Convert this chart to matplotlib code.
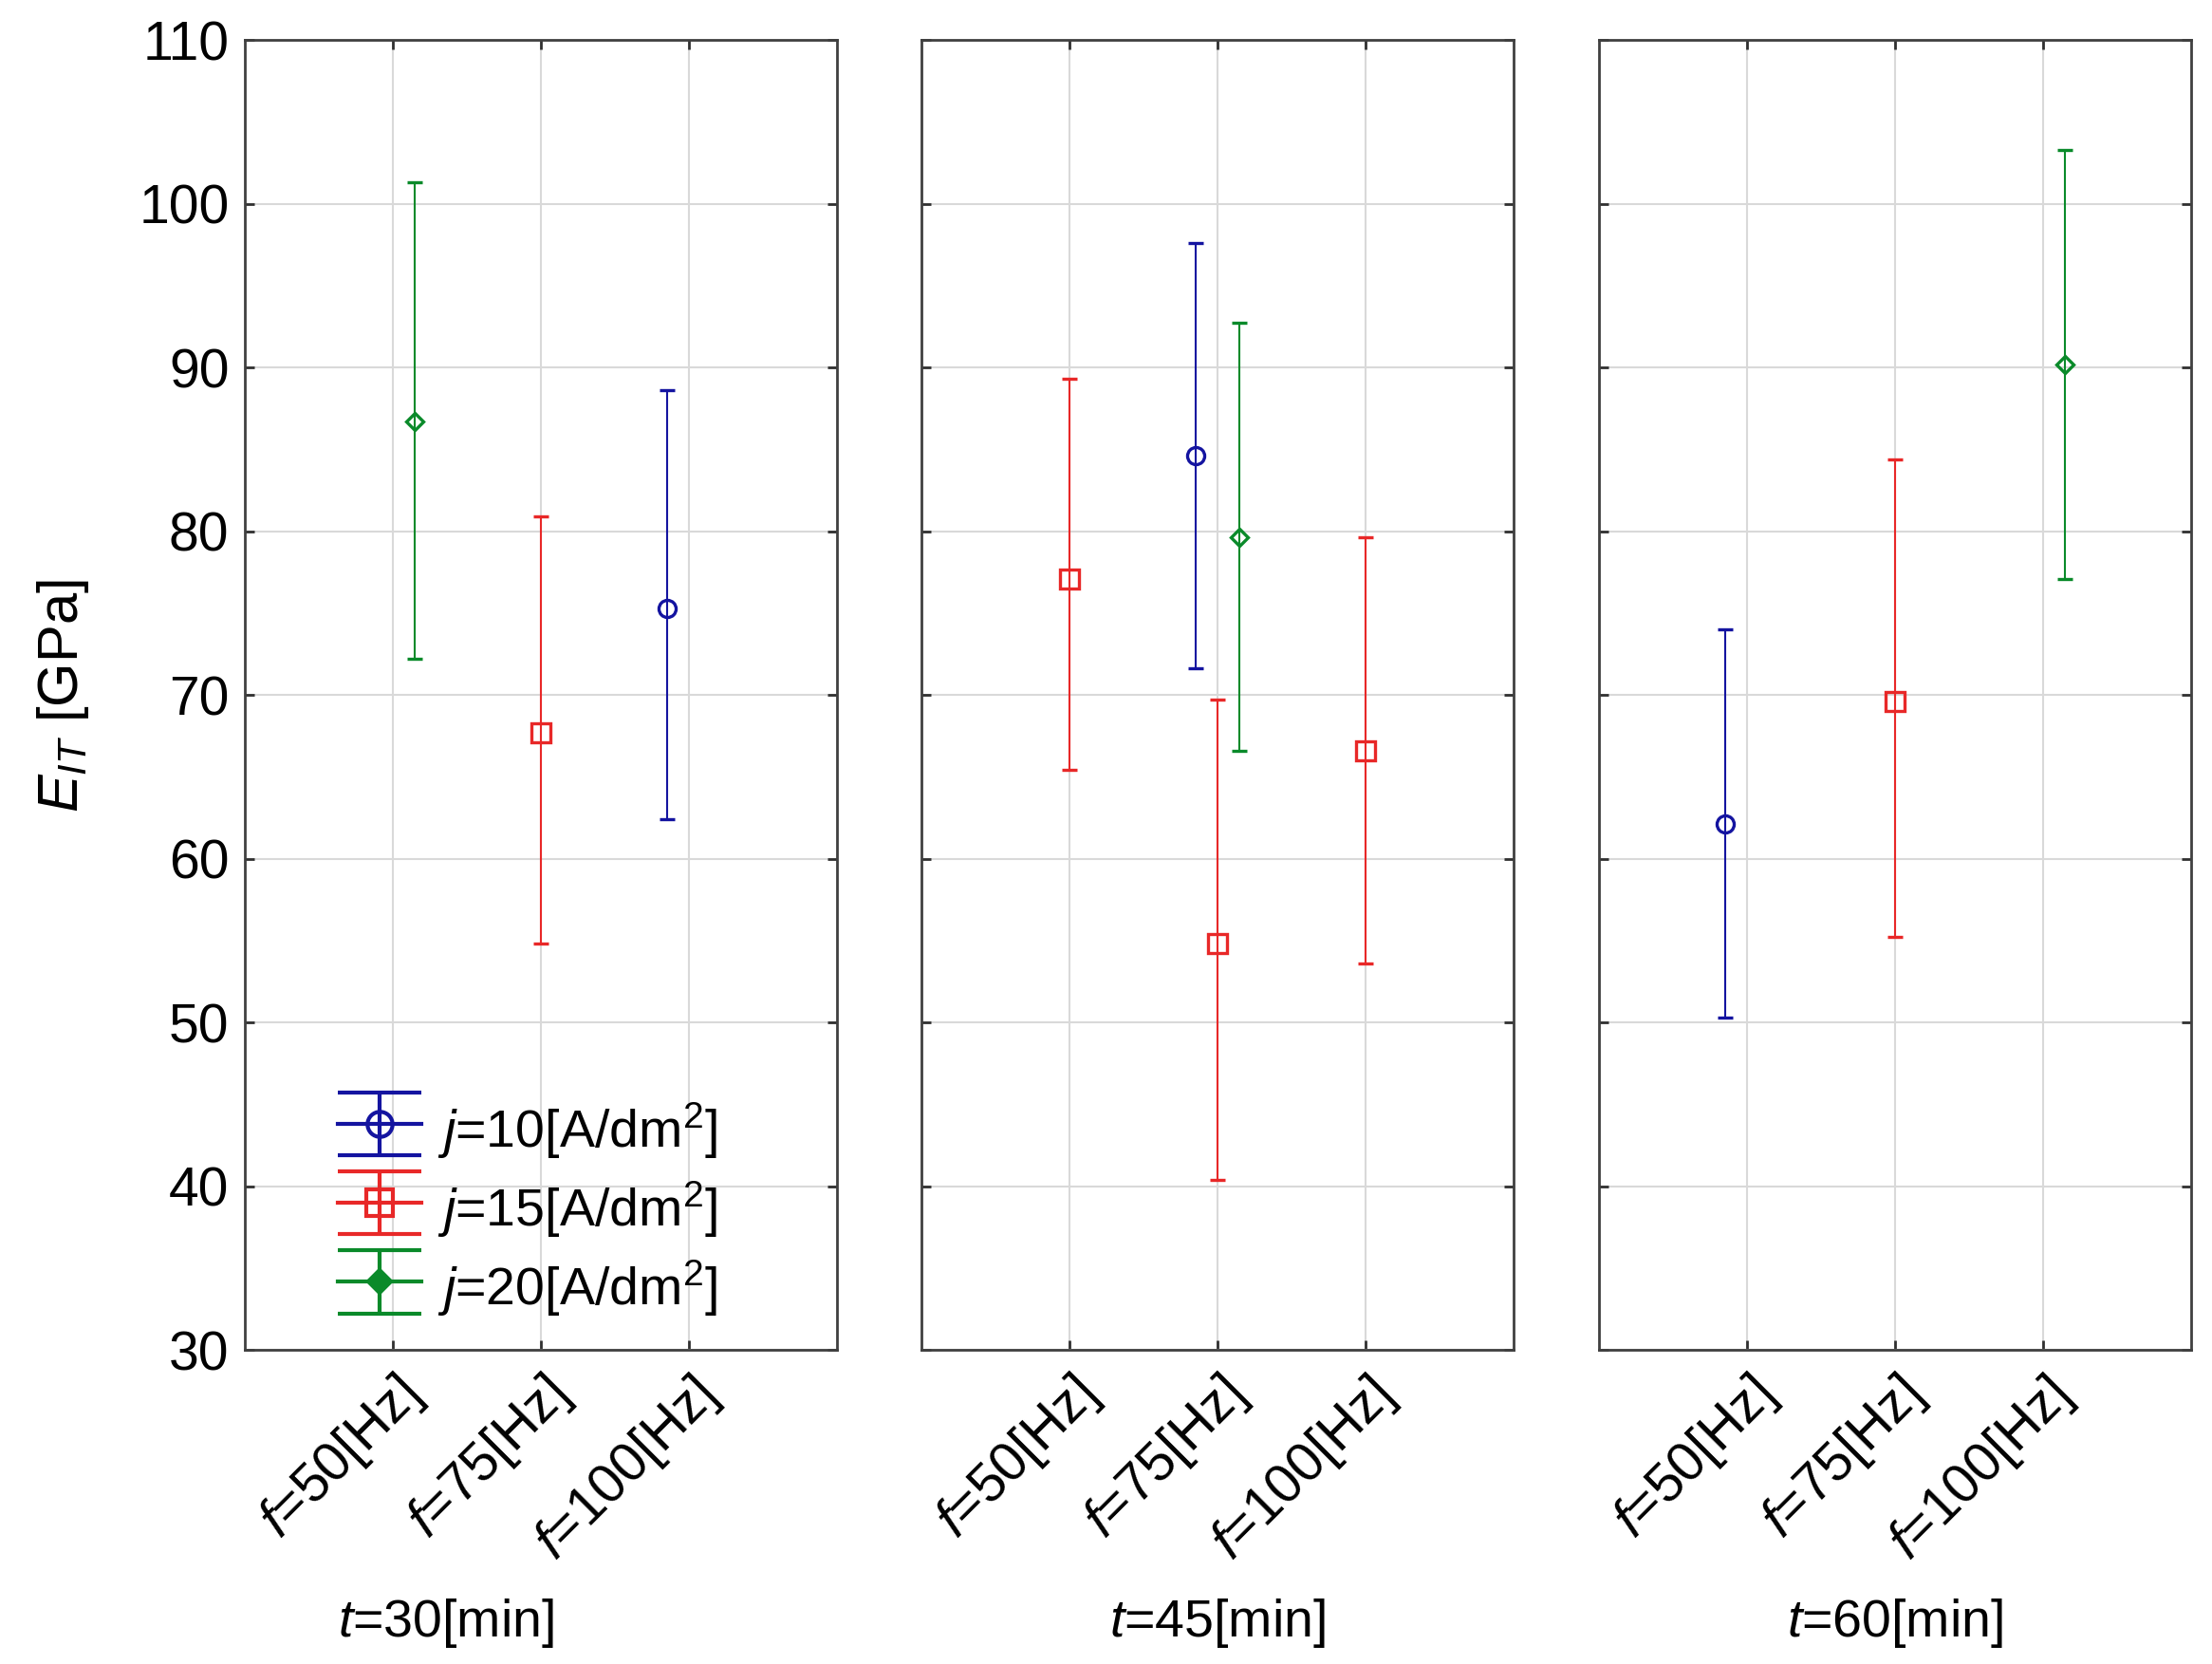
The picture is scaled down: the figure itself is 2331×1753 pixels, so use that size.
import numpy as np
import matplotlib
matplotlib.use("Agg")
import matplotlib.pyplot as plt
from matplotlib.legend_handler import HandlerErrorbar

plt.rcParams['font.family'] = ['Liberation Sans', 'DejaVu Sans']
plt.rcParams['mathtext.fontset'] = 'custom'
plt.rcParams['mathtext.rm'] = 'Liberation Sans'
plt.rcParams['mathtext.it'] = 'Liberation Sans:italic'

# data
panels = ['$t$=30[min]', '$t$=45[min]', '$t$=60[min]']
freq_labels = ['$f$=50[Hz]', '$f$=75[Hz]', '$f$=100[Hz]']
series_labels = ['$j$=10[A/dm$^2$]', '$j$=15[A/dm$^2$]', '$j$=20[A/dm$^2$]']

# one entry per point: panel, frequency index, series index, mean, lower, upper
panel_idx = [0, 0, 0, 1, 1, 1, 1, 1, 2, 2, 2]
freq_idx = [0, 1, 2, 0, 1, 1, 1, 2, 0, 1, 2]
series_idx = [2, 1, 0, 1, 0, 1, 2, 1, 0, 1, 2]
means = [86.7, 67.7, 75.3, 77.1, 84.6, 54.8, 79.6, 66.6, 62.1, 69.6, 90.2]
lowers = [72.2, 54.8, 62.4, 65.4, 71.6, 40.4, 66.6, 53.6, 50.3, 55.2, 77.1]
uppers = [101.3, 80.9, 88.6, 89.3, 97.6, 69.7, 92.7, 79.6, 74.0, 84.4, 103.3]

colors = ['#1414a0', '#e82828', '#0a8a2a']
markers = ['o', 's', 'D']
msizes = [13, 15, 9]
legend_msizes = [19, 20, 12]
offsets = [-0.15, 0.0, 0.15]

fig = plt.figure(figsize=(23.31, 17.53), dpi=100)
lefts = [0.1107, 0.4166, 0.7229]
axes = []
for p in range(3):
    ax = fig.add_axes([lefts[p], 0.1888, 0.2677, 0.7872])
    axes.append(ax)
    ax.set_xlim(0, 4)
    ax.set_ylim(30, 110)
    ax.set_yticks(np.arange(30, 111, 10))
    ax.set_xticks([1, 2, 3])
    ax.set_xticklabels(freq_labels, rotation=45, ha='right',
                       rotation_mode='anchor', fontsize=39)
    ax.grid(True, color='#d9d9d9', linewidth=1.5)
    ax.set_axisbelow(True)
    ax.tick_params(direction='in', length=7, width=2, top=True, right=True,
                   color='#303030', labelsize=41, pad=12)
    ax.tick_params(axis='x', pad=14)
    for s in ax.spines.values():
        s.set_color('#404040')
        s.set_linewidth(2)
    if p > 0:
        ax.set_yticklabels([])
    xt = 0.34 if p == 0 else 0.5
    ax.text(xt, -0.209, panels[p], transform=ax.transAxes, ha='center',
            va='center', fontsize=40)

for i in range(len(means)):
    ax = axes[panel_idx[i]]
    s = series_idx[i]
    x = freq_idx[i] + 1 + offsets[s]
    yerr = [[means[i] - lowers[i]], [uppers[i] - means[i]]]
    ax.errorbar([x], [means[i]], yerr=yerr, fmt=markers[s], color=colors[s],
                mfc='none', mec=colors[s], ms=msizes[s], mew=2.4,
                elinewidth=1.5, capsize=5.5, capthick=2)

# legend proxies (no data, only for the legend handles)
ax = axes[0]
handles = []
for s in range(3):
    face = colors[s] if markers[s] == 'D' else 'none'
    h = ax.errorbar([np.nan], [np.nan], yerr=[[1], [1]], fmt=markers[s],
                    linestyle='-', linewidth=3, color=colors[s], mfc=face,
                    mec=colors[s], ms=legend_msizes[s], mew=3,
                    elinewidth=3, capsize=32, capthick=3.5,
                    label=series_labels[s])
    handles.append(h)
ax.legend(handles=handles, loc='lower left', bbox_to_anchor=(0.085, -0.008),
          frameon=False, fontsize=40, handlelength=1.6, handleheight=1.3,
          handletextpad=0.3, labelspacing=0.35, borderpad=0.3,
          handler_map={type(handles[0]): HandlerErrorbar(yerr_size=0.6)})

fig.text(0.0287, 0.582, '$E_{IT}$ [GPa]', rotation=90, ha='center',
         va='center', fontsize=43)

fig.savefig('out.png', dpi=100, facecolor='white')
